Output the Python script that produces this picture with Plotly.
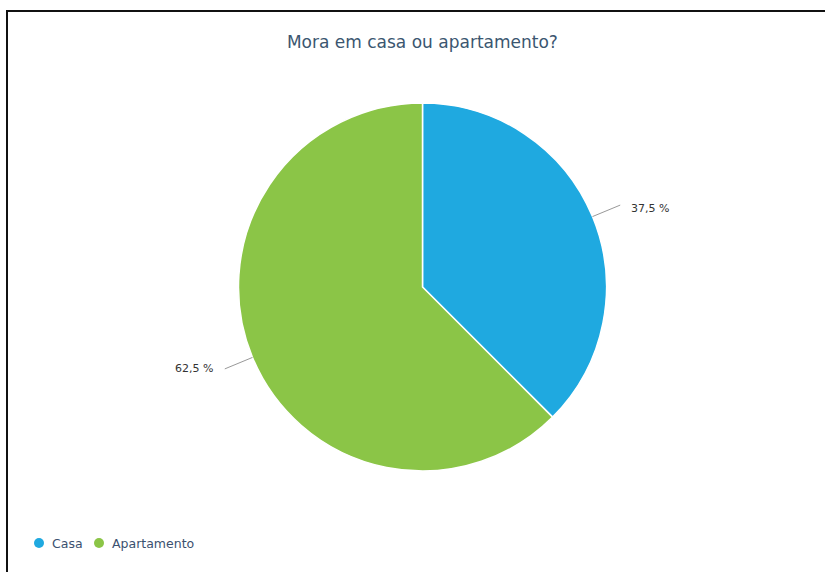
import math
import plotly.graph_objects as go

# Survey answers: "Mora em casa ou apartamento?"
categories = ["Casa", "Apartamento"]
shares = [37.5, 62.5]
colors = ["#1fa9e0", "#8bc547"]
title_text = "Mora em casa ou apartamento?"

W, H = 825, 572
cx, cy, R = 422.5, 287, 184  # pie centre and radius in pixels

def px_to_paper(x, y):
    return x / W, 1 - y / H

fig = go.Figure()

fig.add_trace(go.Pie(
    labels=categories,
    values=shares,
    marker=dict(colors=colors, line=dict(color="white", width=1.5)),
    sort=False,
    direction="clockwise",
    rotation=0,
    textinfo="none",
    hoverinfo="label+percent",
    showlegend=False,
    domain=dict(x=[(cx - R) / W, (cx + R) / W], y=[1 - (cy + R) / H, 1 - (cy - R) / H]),
))

# Outside value labels with leader lines at each slice's mid-angle
shapes = []
annotations = []
total = sum(shares)
cum = 0.0
for v in shares:
    mid = (cum + v / 2) / total * 2 * math.pi
    cum += v
    sx, sy = math.sin(mid), -math.cos(mid)
    x0, y0 = cx + R * sx, cy + R * sy
    x1, y1 = cx + (R + 30) * sx, cy + (R + 30) * sy
    p0 = px_to_paper(x0, y0)
    p1 = px_to_paper(x1, y1)
    shapes.append(dict(type="line", xref="paper", yref="paper",
                       x0=p0[0], y0=p0[1], x1=p1[0], y1=p1[1],
                       line=dict(color="#999999", width=1)))
    right = sx >= 0
    tx = x1 + (9 if right else -10)
    tp = px_to_paper(tx, y1 + (3 if right else 0))
    label = f"{v:.1f}".replace(".", ",") + " %"
    annotations.append(dict(
        x=tp[0], y=tp[1], xref="paper", yref="paper", text=label,
        showarrow=False, xanchor="left" if right else "right", yanchor="middle",
        font=dict(family="DejaVu Sans", size=11, color="#333333"),
    ))

# Legend row along the bottom: round swatch followed by the category name
legend_y = 543
legend_x = [39, 99]
for name, col, lx in zip(categories, colors, legend_x):
    a0 = px_to_paper(lx - 5, legend_y - 5)
    a1 = px_to_paper(lx + 5, legend_y + 5)
    shapes.append(dict(type="circle", xref="paper", yref="paper",
                       x0=a0[0], y0=a1[1], x1=a1[0], y1=a0[1],
                       fillcolor=col, line=dict(width=0)))
    tp = px_to_paper(lx + 11, legend_y)
    annotations.append(dict(
        x=tp[0], y=tp[1], xref="paper", yref="paper", text=name,
        showarrow=False, xanchor="left", yanchor="middle",
        font=dict(family="DejaVu Sans", size=12.5, color="#3b5170"),
    ))

# Frame around the chart
fx0, fy0 = px_to_paper(7, 11)
shapes.append(dict(type="rect", xref="paper", yref="paper",
                   x0=fx0, y0=-0.1, x1=1.1, y1=fy0,
                   line=dict(color="#111111", width=2), fillcolor="rgba(0,0,0,0)"))

fig.update_layout(
    width=W, height=H,
    margin=dict(l=0, r=0, t=0, b=0),
    paper_bgcolor="white",
    plot_bgcolor="white",
    title=dict(text=title_text, x=0.512, xanchor="center", y=1 - 42 / H, yanchor="middle",
               font=dict(family="DejaVu Sans", size=17, color="#3b5670")),
    showlegend=False,
    shapes=shapes,
    annotations=annotations,
)

fig.write_html("out.html")
